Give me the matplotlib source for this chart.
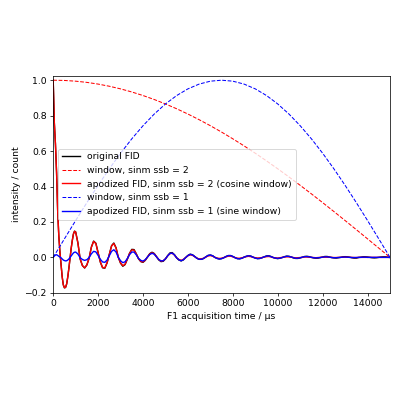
import numpy as np
import matplotlib
matplotlib.use('Agg')
import matplotlib.pyplot as plt

# acquisition time grid (us): finer sampling at the start of the FID
t = np.concatenate([np.arange(0, 1000, 50), np.arange(1000, 15001, 100)])

# original FID
fid = [1.000, 0.760, 0.640, 0.480, 0.260, 0.120, 0.030, -0.040, -0.110, -0.155,
       -0.172, -0.170, -0.150, -0.110, -0.060, -0.005, 0.050, 0.095, 0.132, 0.148,
       0.144, 0.082, -0.009, -0.046, -0.060, -0.043, -0.004, 0.058, 0.092, 0.080,
       0.027, -0.027, -0.059, -0.061, -0.031, 0.018, 0.066, 0.081, 0.054, 0.000,
       -0.033, -0.050, -0.041, -0.011, 0.023, 0.045, 0.044, 0.020, -0.008, -0.024,
       -0.028, -0.017, 0.002, 0.021, 0.029, 0.022, 0.004, -0.014, -0.024, -0.022,
       -0.009, 0.010, 0.025, 0.027, 0.015, -0.003, -0.015, -0.020, -0.014, -0.001,
       0.011, 0.018, 0.015, 0.005, -0.005, -0.011, -0.011, -0.006, 0.003, 0.011,
       0.013, 0.009, 0.000, -0.006, -0.009, -0.007, -0.002, 0.005, 0.010, 0.010,
       0.005, -0.002, -0.007, -0.008, -0.005, 0.001, 0.006, 0.009, 0.007, 0.001,
       -0.004, -0.007, -0.006, -0.002, 0.003, 0.008, 0.009, 0.005, -0.001, -0.005,
       -0.007, -0.005, -0.001, 0.004, 0.007, 0.006, 0.002, -0.003, -0.006, -0.006,
       -0.003, 0.001, 0.005, 0.006, 0.004, 0.000, -0.003, -0.005, -0.004, -0.001,
       0.002, 0.005, 0.005, 0.002, -0.001, -0.003, -0.004, -0.002, 0.000, 0.003,
       0.004, 0.003, 0.001, -0.002, -0.004, -0.004, -0.001, 0.001, 0.003, 0.003,
       0.002, 0.000, -0.002, -0.003, -0.002, 0.000, 0.002, 0.003, 0.003, 0.001,
       -0.001]

# apodized with cosine window (sinm ssb = 2)
fid_cos = [1.000, 0.760, 0.640, 0.480, 0.260, 0.120, 0.030, -0.040, -0.110, -0.155,
           -0.171, -0.169, -0.149, -0.109, -0.060, -0.005, 0.050, 0.095, 0.131, 0.147,
           0.143, 0.081, -0.009, -0.046, -0.059, -0.042, -0.004, 0.057, 0.090, 0.078,
           0.026, -0.026, -0.057, -0.059, -0.030, 0.017, 0.064, 0.078, 0.052, 0.000,
           -0.031, -0.047, -0.039, -0.010, 0.022, 0.042, 0.041, 0.019, -0.007, -0.022,
           -0.026, -0.015, 0.002, 0.019, 0.026, 0.020, 0.004, -0.012, -0.021, -0.019,
           -0.008, 0.009, 0.021, 0.023, 0.013, -0.003, -0.012, -0.017, -0.011, -0.001,
           0.009, 0.014, 0.012, 0.004, -0.004, -0.009, -0.008, -0.005, 0.002, 0.008,
           0.010, 0.007, 0.000, -0.004, -0.006, -0.005, -0.001, 0.003, 0.007, 0.007,
           0.003, -0.001, -0.005, -0.005, -0.003, 0.001, 0.004, 0.006, 0.004, 0.001,
           -0.002, -0.004, -0.003, -0.001, 0.002, 0.004, 0.005, 0.003, -0.001, -0.003,
           -0.004, -0.002, 0.000, 0.002, 0.003, 0.003, 0.001, -0.001, -0.003, -0.002,
           -0.001, 0.000, 0.002, 0.002, 0.001, 0.000, -0.001, -0.002, -0.001, 0.000,
           0.001, 0.001, 0.001, 0.001, 0.000, -0.001, -0.001, 0.000, 0.000, 0.001,
           0.001, 0.001, 0.000, 0.000, -0.001, -0.001, 0.000, 0.000, 0.000, 0.000,
           0.000, 0.000, 0.000, 0.000, 0.000, 0.000, 0.000, 0.000, 0.000, 0.000,
           0.000]

# apodized with sine window (sinm ssb = 1)
fid_sin = [0.000, 0.008, 0.013, 0.015, 0.011, 0.006, 0.002, -0.003, -0.009, -0.015,
           -0.018, -0.020, -0.019, -0.015, -0.009, -0.001, 0.008, 0.017, 0.025, 0.029,
           0.030, 0.019, -0.002, -0.012, -0.017, -0.013, -0.001, 0.020, 0.034, 0.031,
           0.011, -0.011, -0.026, -0.028, -0.015, 0.009, 0.034, 0.043, 0.030, 0.000,
           -0.019, -0.030, -0.025, -0.007, 0.015, 0.030, 0.030, 0.014, -0.006, -0.017,
           -0.021, -0.013, 0.002, 0.016, 0.023, 0.018, 0.003, -0.012, -0.020, -0.019,
           -0.008, 0.009, 0.022, 0.024, 0.014, -0.003, -0.014, -0.019, -0.013, -0.001,
           0.010, 0.017, 0.014, 0.005, -0.005, -0.011, -0.011, -0.006, 0.003, 0.011,
           0.013, 0.009, 0.000, -0.006, -0.009, -0.007, -0.002, 0.005, 0.010, 0.010,
           0.005, -0.002, -0.007, -0.008, -0.005, 0.001, 0.006, 0.009, 0.007, 0.001,
           -0.004, -0.007, -0.006, -0.002, 0.003, 0.007, 0.008, 0.004, -0.001, -0.004,
           -0.006, -0.004, -0.001, 0.003, 0.006, 0.005, 0.002, -0.002, -0.005, -0.005,
           -0.002, 0.001, 0.004, 0.004, 0.003, 0.000, -0.002, -0.003, -0.002, -0.001,
           0.001, 0.003, 0.003, 0.001, -0.001, -0.002, -0.002, -0.001, 0.000, 0.001,
           0.002, 0.001, 0.000, -0.001, -0.001, -0.001, 0.000, 0.000, 0.001, 0.001,
           0.000, 0.000, 0.000, 0.000, 0.000, 0.000, 0.000, 0.000, 0.000, 0.000,
           0.000]

# window functions, sampled every 500 us
win_t = np.arange(0, 15001, 500)
win_cos = [1.0, 0.9986, 0.9945, 0.9877, 0.9781, 0.9659, 0.9511, 0.9336, 0.9135, 0.8910,
           0.8660, 0.8387, 0.8090, 0.7771, 0.7431, 0.7071, 0.6691, 0.6293, 0.5878, 0.5446,
           0.5000, 0.4540, 0.4067, 0.3584, 0.3090, 0.2588, 0.2079, 0.1564, 0.1045, 0.0523,
           0.0]
win_sin = [0.0, 0.1045, 0.2079, 0.3090, 0.4067, 0.5000, 0.5878, 0.6691, 0.7431, 0.8090,
           0.8660, 0.9135, 0.9511, 0.9781, 0.9945, 1.0, 0.9945, 0.9781, 0.9511, 0.9135,
           0.8660, 0.8090, 0.7431, 0.6691, 0.5878, 0.5000, 0.4067, 0.3090, 0.2079, 0.1045,
           0.0]

fig = plt.figure(figsize=(6, 6), dpi=400 / 6)
ax = fig.add_axes([0.133, 0.268, 0.842, 0.543])

ax.plot(t, fid, 'k', label='original FID')
ax.plot(win_t, win_cos, 'r--', lw=1.1, label='window, sinm ssb = 2')
ax.plot(t, fid_cos, 'r', label='apodized FID, sinm ssb = 2 (cosine window)')
ax.plot(win_t, win_sin, 'b--', lw=1.1, label='window, sinm ssb = 1')
ax.plot(t, fid_sin, 'b', label='apodized FID, sinm ssb = 1 (sine window)')

ax.set_xlim(0, 15000)
ax.set_ylim(-0.2, 1.026)
ax.set_xlabel('F1 acquisition time / µs')
ax.set_ylabel('intensity / count')
ax.legend(loc='center left')

fig.savefig('out.png', dpi=400 / 6)
